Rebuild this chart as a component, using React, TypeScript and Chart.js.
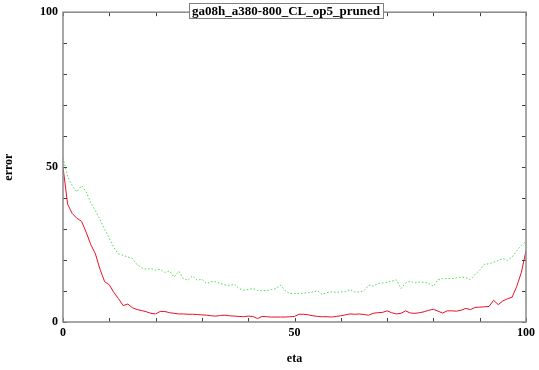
import React, { useEffect, useRef } from "react";
import { Chart, registerables } from "chart.js";

Chart.register(...registerables);

const eta: number[] = Array.from({ length: 101 }, (_, i) => i);

const redSeries: number[] = [
  50, 38, 35, 33.5, 32.5, 29, 25, 22, 17, 13,
  12, 9.5, 7.5, 5.3, 5.8, 4.6, 4.0, 3.7, 3.3, 2.8,
  2.6, 3.4, 3.4, 3.0, 2.8, 2.6, 2.6, 2.5, 2.5, 2.4,
  2.3, 2.2, 2.0, 1.9, 2.1, 2.2, 2.0, 1.9, 1.8, 1.7,
  1.9, 1.8, 1.1, 1.8, 1.7, 1.6, 1.6, 1.6, 1.6, 1.7,
  1.8, 2.5, 2.5, 2.3, 2.0, 1.8, 1.7, 1.7, 1.6, 1.8,
  2.0, 2.3, 2.6, 2.5, 2.6, 2.4, 2.2, 2.8, 3.0, 3.1,
  3.6, 3.0, 2.6, 2.8, 3.6, 2.9, 2.8, 3.0, 3.3, 3.8,
  4.1, 3.5, 2.9, 3.6, 3.6, 3.5, 3.8, 4.4, 4.0, 4.7,
  4.8, 4.9, 5.0, 7.0, 5.6, 6.8, 7.5, 8.0, 11.5, 16,
  23,
];

const greenSeries: number[] = [
  53, 47, 44, 42, 44, 42, 38.5, 36, 33, 30,
  27, 24, 22, 21.5, 21, 20.5, 18.5, 17.5, 17, 17.3,
  16.7, 17, 16, 16.5, 14.5, 16.4, 14, 13.5, 14.9, 13.5,
  13.8, 12.4, 13, 13, 12.4, 12, 11.8, 12.2, 10.8, 10.3,
  10.5, 10.8, 10.2, 10.1, 10.1, 10.5, 10.8, 11.9, 10.1, 9.2,
  9.2, 9.2, 9.3, 9.5, 9.7, 10.1, 8.9, 9.5, 9.7, 9.6,
  9.7, 9.8, 10.5, 9.7, 9.7, 10.1, 11.9, 11.6, 12.4, 12.6,
  12.8, 13.2, 13.6, 10.8, 12.6, 13.2, 12.6, 12.9, 12.8, 12.5,
  11.5, 13.7, 14.0, 14.0, 14.0, 14.3, 14.5, 14.3, 13.7, 15.4,
  16.7, 18.6, 18.8, 19.3, 19.8, 20.5, 19.9, 21, 23, 24.7,
  26,
];

const xTickLabels: number[] = [0, 50, 100];
const yTickLabels: number[] = [0, 50, 100];
const titleText = "ga08h_a380-800_CL_op5_pruned";
const xTitle = "eta";
const yTitle = "error";

const FONT = "'Liberation Serif', 'Times New Roman', serif";

const framePlugin = {
  id: "gnuFrame",
  afterDatasetsDraw(chart: any) {
    const { ctx, chartArea, scales } = chart;
    const { left, right, top, bottom } = chartArea;
    ctx.save();
    ctx.strokeStyle = "#404040";
    ctx.lineWidth = 1;
    const len = 4;
    for (let v = 0; v <= 100; v += 10) {
      const x = Math.round(scales.x.getPixelForValue(v)) + 0.5;
      ctx.beginPath();
      ctx.moveTo(x, bottom);
      ctx.lineTo(x, bottom - len);
      ctx.moveTo(x, top);
      ctx.lineTo(x, top + len);
      ctx.stroke();
      const y = Math.round(scales.y.getPixelForValue(v)) + 0.5;
      ctx.beginPath();
      ctx.moveTo(left, y);
      ctx.lineTo(left + len, y);
      ctx.moveTo(right, y);
      ctx.lineTo(right - len, y);
      ctx.stroke();
    }
    ctx.strokeStyle = "#8a8a8a";
    ctx.lineWidth = 1.5;
    ctx.strokeRect(left, top, right - left, bottom - top);
    ctx.font = `bold 13px ${FONT}`;
    const w = ctx.measureText(titleText).width;
    const cx = 286;
    const bx = Math.round(cx - w / 2 - 3) + 0.5;
    const bw = Math.round(w + 6);
    const by = 3.5;
    const bh = 15;
    ctx.fillStyle = "#ffffff";
    ctx.fillRect(bx, by, bw, bh);
    ctx.strokeStyle = "#808080";
    ctx.lineWidth = 1;
    ctx.strokeRect(bx, by, bw, bh);
    ctx.fillStyle = "#000000";
    ctx.textAlign = "center";
    ctx.textBaseline = "alphabetic";
    ctx.fillText(titleText, cx, 15);
    ctx.restore();
  },
};

export default function App() {
  const ref = useRef<HTMLCanvasElement | null>(null);
  useEffect(() => {
    document.body.style.margin = "0";
    document.body.style.background = "#ffffff";
    if (!ref.current) return;
    const chart = new Chart(ref.current, {
      type: "line",
      data: {
        labels: eta,
        datasets: [
          {
            label: "green",
            data: eta.map((x, i) => ({ x, y: greenSeries[i] })),
            borderColor: "#4fd84f",
            borderWidth: 1,
            borderDash: [1.5, 2],
            pointRadius: 0,
            tension: 0,
            fill: false,
          },
          {
            label: "red",
            data: eta.map((x, i) => ({ x, y: redSeries[i] })),
            borderColor: "#e8102a",
            borderWidth: 1,
            pointRadius: 0,
            tension: 0,
            fill: false,
          },
        ],
      },
      options: {
        animation: false,
        responsive: true,
        maintainAspectRatio: false,
        layout: { padding: { top: 10, right: 12, left: 0, bottom: 0 } },
        plugins: { legend: { display: false }, tooltip: { enabled: false }, title: { display: false } },
        scales: {
          x: {
            type: "linear",
            min: 0,
            max: 100,
            afterBuildTicks: (s: any) => {
              s.ticks = xTickLabels.map((v) => ({ value: v }));
            },
            ticks: {
              autoSkip: false,
              maxRotation: 0,
              padding: 4,
              color: "#000",
              font: { family: FONT, size: 12, weight: "bold" },
              callback: (v: any) => String(v),
            },
            grid: { display: false, drawTicks: false },
            border: { display: false },
            title: {
              display: true,
              text: xTitle,
              color: "#000",
              font: { family: FONT, size: 12, weight: "bold" },
              padding: { top: 0, bottom: 4 },
            },
            afterFit: (s: any) => {
              s.height = 48;
            },
          },
          y: {
            type: "linear",
            min: 0,
            max: 100,
            afterBuildTicks: (s: any) => {
              s.ticks = yTickLabels.map((v) => ({ value: v }));
            },
            ticks: {
              autoSkip: false,
              padding: 5,
              color: "#000",
              font: { family: FONT, size: 12, weight: "bold" },
              callback: (v: any) => String(v),
            },
            grid: { display: false, drawTicks: false },
            border: { display: false },
            title: {
              display: true,
              text: yTitle,
              color: "#000",
              font: { family: FONT, size: 12, weight: "bold" },
              padding: { top: 2, bottom: 0 },
            },
            afterFit: (s: any) => {
              s.width = 63;
            },
          },
        },
      },
      plugins: [framePlugin],
    });
    return () => chart.destroy();
  }, []);
  return (
    <div style={{ position: "fixed", left: 0, top: 0, width: 539, height: 370 }}>
      <canvas ref={ref} />
    </div>
  );
}
